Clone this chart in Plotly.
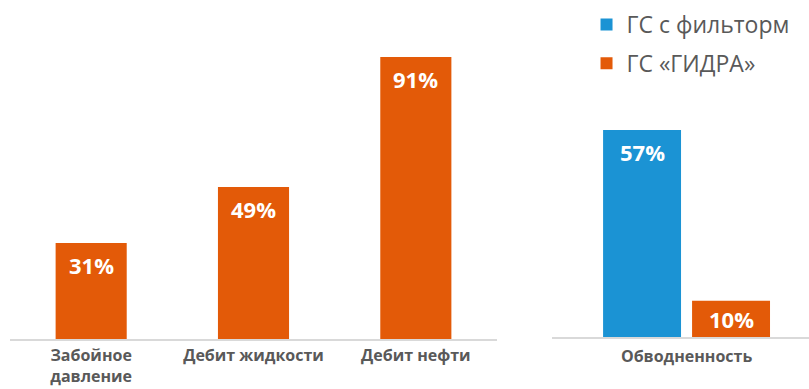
import plotly.graph_objects as go

# ---- data ----
left_categories = ["Забойное<br>давление", "Дебит жидкости", "Дебит нефти"]
left_hydra = [31, 49, 91]
right_categories = ["Обводненность"]
right_filter = [57]
right_hydra = [10]
series_names = ["ГС с фильторм", "ГС «ГИДРА»"]

# ---- styles ----
ORANGE = "#E35A08"
BLUE = "#1B93D4"
GRAY = "#595959"
AXIS = "#D9D9D9"
W, H = 809, 389
BARGAP = 0.5
BARGROUPGAP = 0.124

fig = go.Figure()
fig.add_bar(x=right_categories, y=right_filter, name=series_names[0],
            marker=dict(color=BLUE, line=dict(width=0)),
            xaxis="x2", yaxis="y2", legendgroup="filter")
fig.add_bar(x=left_categories, y=left_hydra, name=series_names[1],
            marker=dict(color=ORANGE, line=dict(width=0)),
            xaxis="x", yaxis="y", legendgroup="hydra", showlegend=False)
fig.add_bar(x=right_categories, y=right_hydra, name=series_names[1],
            marker=dict(color=ORANGE, line=dict(width=0)),
            xaxis="x2", yaxis="y2", legendgroup="hydra")

label_font = dict(family="Open Sans", size=22, color="white", weight="bold")
annotations = []
for c, v in zip(left_categories, left_hydra):
    annotations.append(dict(x=c, y=v, xref="x", yref="y", text=f"{v}%",
                            showarrow=False, yanchor="middle", yshift=-22,
                            font=label_font))
half = (1 - BARGAP) / 4
for vals, off in ((right_filter, -half), (right_hydra, half)):
    for i, v in enumerate(vals):
        annotations.append(dict(x=i + off, y=v, xref="x2", yref="y2", text=f"{v}%",
                                showarrow=False, yanchor="middle",
                                yshift=-min(22, v * 3.63 / 2),
                                font=label_font))

tickfont = dict(family="Open Sans", size=16, color=GRAY, weight="bold")
fig.update_layout(
    width=W, height=H,
    margin=dict(l=0, r=0, t=0, b=0),
    paper_bgcolor="white", plot_bgcolor="white",
    barmode="group", bargap=BARGAP, bargroupgap=BARGROUPGAP,
    showlegend=True,
    legend=dict(x=0.725, y=1.0 - 3 / H, xanchor="left", yanchor="top",
                traceorder="grouped", tracegroupgap=6,
                font=dict(family="Open Sans", size=23, color=GRAY),
                bgcolor="rgba(0,0,0,0)"),
    xaxis=dict(domain=[10 / W, 497 / W], range=[-0.5, 2.5], anchor="y",
               showline=True, linecolor=AXIS, linewidth=1.5,
               showgrid=False, zeroline=False, ticks="", automargin=False,
               tickfont=tickfont, ticklabelstandoff=1),
    yaxis=dict(domain=[50 / H, 1], range=[0, 339 / 3.1], visible=False, anchor="x",
               automargin=False),
    xaxis2=dict(domain=[552 / W, 1], range=[-0.378, 0.344], anchor="y2",
                showline=True, linecolor=AXIS, linewidth=1.5,
                showgrid=False, zeroline=False, ticks="", automargin=False,
                tickfont=tickfont, ticklabelstandoff=4),
    yaxis2=dict(domain=[52 / H, 1], range=[0, 337 / 3.63], visible=False, anchor="x2",
                automargin=False),
    annotations=annotations,
)

fig.write_html("out.html")
